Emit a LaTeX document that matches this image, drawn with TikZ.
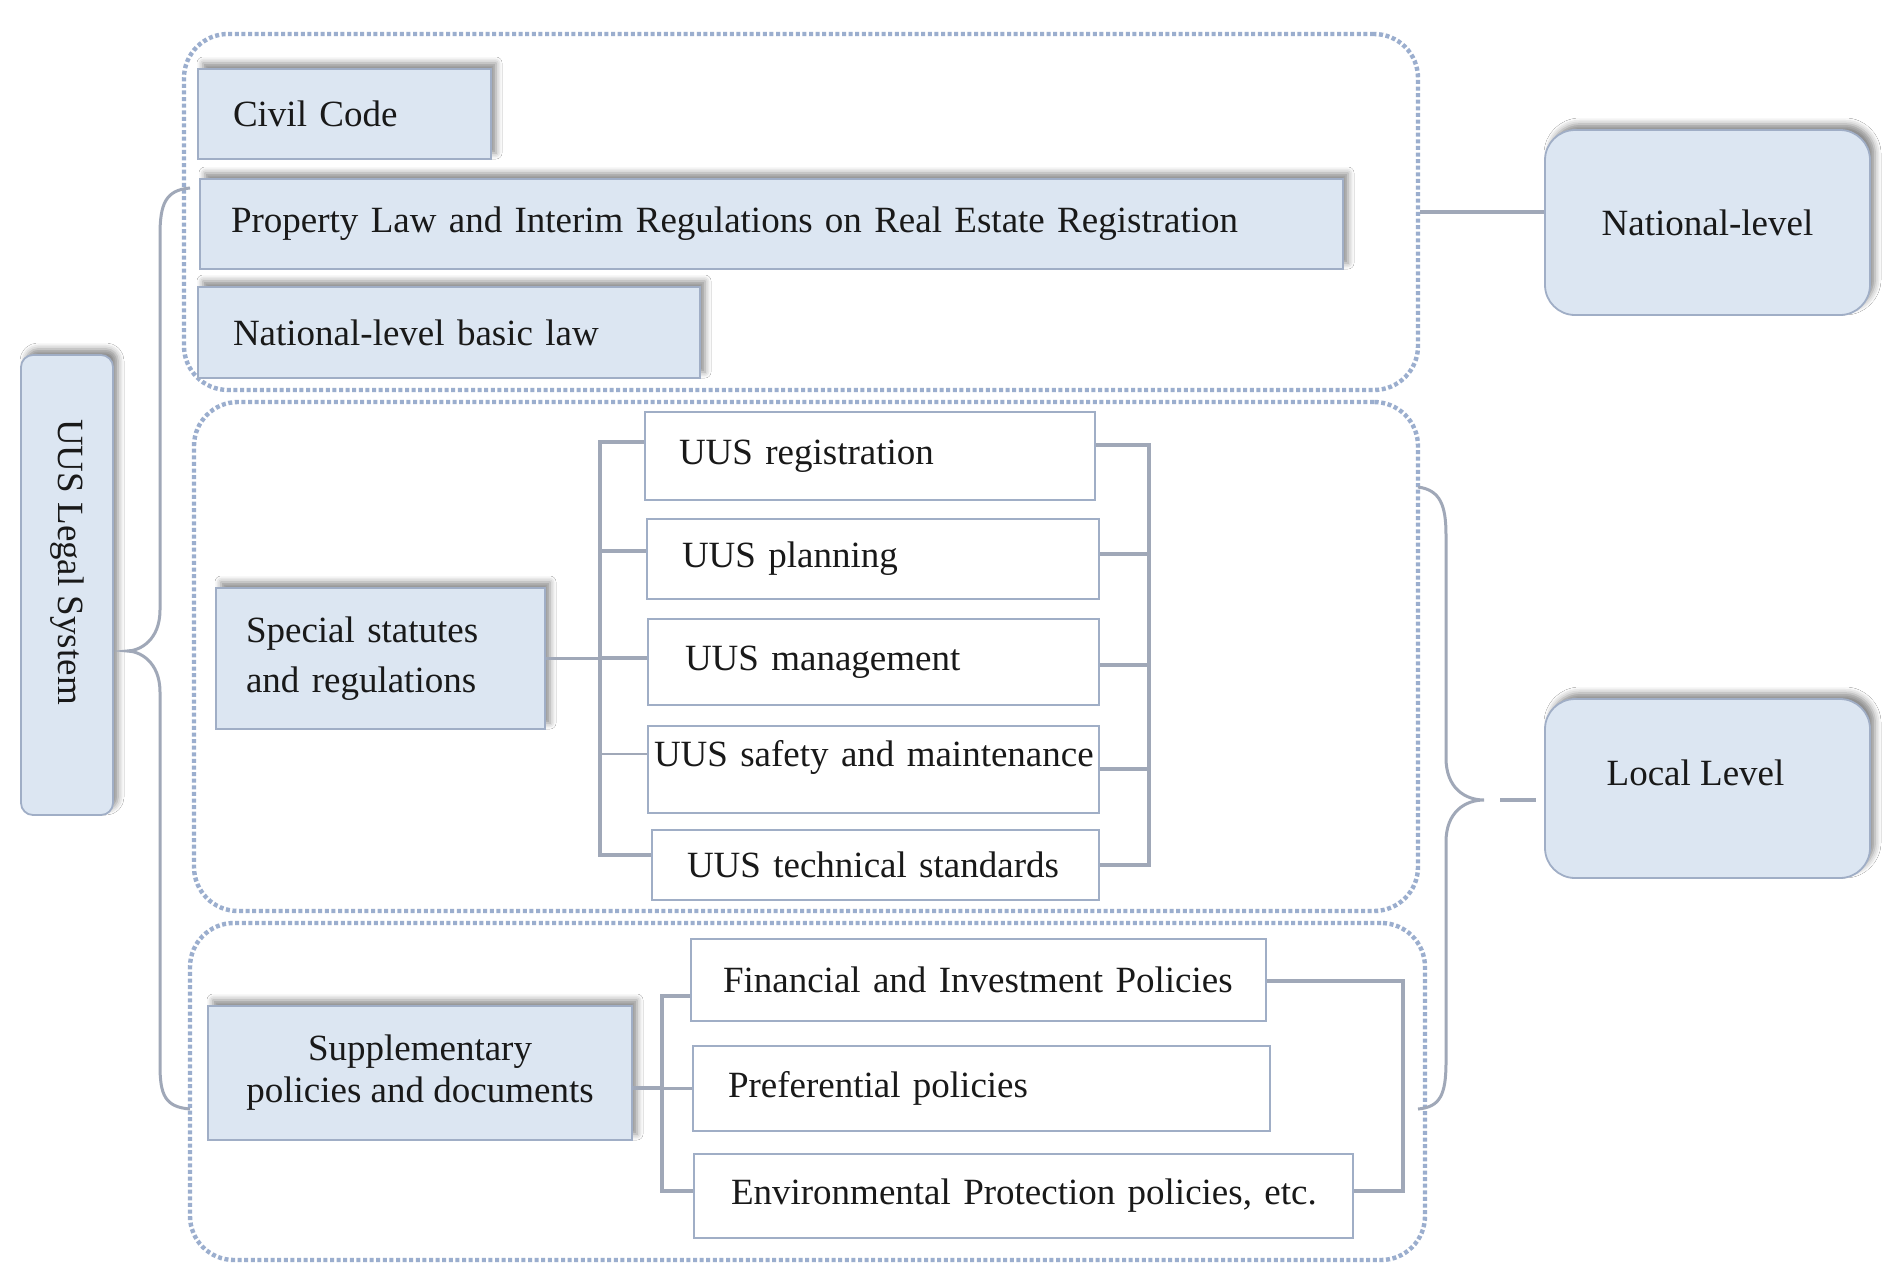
\documentclass[tikz,border=0pt]{standalone}
\usepackage{fontspec}
\setmainfont{Liberation Serif}
\usetikzlibrary{shadows.blur,calc}
\definecolor{boxfill}{RGB}{220,230,242}
\definecolor{boxline}{RGB}{160,174,198}
\definecolor{dotcol}{RGB}{155,174,206}
\definecolor{conncol}{RGB}{160,168,184}
\begin{document}
\begin{tikzpicture}[x=0.5pt,y=-0.5pt,
  every node/.style={font=\fontsize{18.5}{22}\selectfont, inner sep=0pt, text=black!90},
  bluebox/.style={rectangle, draw=boxline, line width=0.9pt, fill=boxfill,
    blur shadow={shadow xshift=2.5pt, shadow yshift=3pt, shadow blur radius=3pt, shadow opacity=45}},
  whitebox/.style={rectangle, draw=boxline, line width=1.2pt, fill=white},
  container/.style={rectangle, draw=dotcol, line width=2.2pt, dash pattern=on 2pt off 1.3pt, rounded corners=22pt},
  conn/.style={draw=conncol, line width=1.8pt},
  brace/.style={draw=conncol, line width=1.5pt},
]
\fill[white] (0,0) rectangle (1900,1285);
\useasboundingbox (0,0) rectangle (1900,1285);

% dotted containers
\node[container, minimum width=617pt, minimum height=178pt] (natbox) at (801,212) {};
\node[container, minimum width=612pt, minimum height=254.5pt] (locbox) at (806,656.5) {};
\node[container, minimum width=617.5pt, minimum height=168.5pt] (supbox) at (807.5,1091.5) {};

% helper coordinates
\coordinate (sl) at (600,0);
\coordinate (sr) at (1149,0);
\coordinate (ul) at (662,0);
\coordinate (ur) at (1403,0);
\coordinate (ltop) at (190,188);
\coordinate (ltip) at (127,651);
\coordinate (lbot) at (190,1109);
\coordinate (rtop) at (1418,487);
\coordinate (rtip) at (1484,800);
\coordinate (rbot) at (1418,1109);

% nodes
\node[bluebox, rounded corners=6pt, minimum width=46pt, minimum height=230pt] (legal) at (67,585) {};
\node[rotate=-90] (legaltext) at (67,562) {UUS Legal System};

\node[bluebox, text width=111.5pt, inner xsep=17.5pt, minimum height=45pt, align=left] (civil) at (344.5,114) {Civil Code};
\node[bluebox, text width=540.5pt, inner xsep=15.5pt, minimum height=45pt, align=left] (prop) at (771.5,224) {Property Law and Interim Regulations on Real Estate Registration};
\node[bluebox, text width=216pt, inner xsep=17.5pt, minimum height=45.5pt, align=left] (basic) at (449,332.5) {National-level basic law};

\node[bluebox, rounded corners=15pt, minimum width=162.5pt, minimum height=92.5pt] (national) at (1707.5,222.5) {National-level};
\node[bluebox, rounded corners=15pt, minimum width=162.5pt, minimum height=89.5pt, text depth=16pt] (local) at (1707.5,788.5) {Local Level\hspace*{12pt}};

\node[bluebox, text width=134.5pt, inner xsep=15pt, minimum height=70.5pt, align=left, font=\fontsize{18.5}{25}\selectfont] (special) at (380.5,658.5) {Special statutes\\and regulations};

\node[whitebox, text width=191pt, inner xsep=17pt, minimum height=44pt, align=left] (reg) at (870,456) {UUS registration};
\node[whitebox, text width=191pt, inner xsep=17.5pt, minimum height=40pt, align=left] (plan) at (873,559) {UUS planning};
\node[whitebox, text width=188.5pt, inner xsep=18.5pt, minimum height=43pt, align=left] (mgmt) at (873.5,662) {UUS management};
\node[whitebox, text width=219.5pt, inner xsep=3pt, minimum height=43.5pt, align=left, text depth=16pt] (safety) at (873.5,769.5) {\mbox{UUS safety and maintenance}};
\node[whitebox, text width=188.5pt, inner xsep=17.5pt, minimum height=35pt, align=left] (tech) at (875.5,865) {\mbox{UUS technical standards}};

\node[bluebox, minimum width=212pt, minimum height=67pt, align=center, font=\fontsize{18.5}{21}\selectfont] (supp) at (420,1073) {Supplementary\\policies and documents};

\node[whitebox, text width=255.5pt, inner xsep=16pt, minimum height=41pt, align=left] (fin) at (978.5,980) {Financial and Investment Policies};
\node[whitebox, text width=253.5pt, inner xsep=17.5pt, minimum height=42.5pt, align=left] (pref) at (981.5,1088.5) {Preferential policies};
\node[whitebox, text width=292.5pt, inner xsep=18.5pt, minimum height=42pt, align=left] (env) at (1023.5,1196) {\mbox{Environmental Protection policies, etc.}};

% braces
\draw[brace] (ltop) .. controls (165,190) and (160,205) .. (160,235) -- (160,610)
  .. controls (160,640) and (140,651) .. (ltip)
  .. controls (140,651) and (160,662) .. (160,692) -- (160,1065)
  .. controls (160,1095) and (165,1107) .. (lbot);
\draw[brace] (rtop) .. controls (1440,490) and (1446,505) .. (1446,535) -- (1446,758)
  .. controls (1446,788) and (1465,800) .. (rtip)
  .. controls (1465,800) and (1446,812) .. (1446,842) -- (1446,1062)
  .. controls (1446,1095) and (1440,1107) .. (rbot);

% connectors
\draw[conn] (natbox.east) -- (natbox.east -| national.west);
\draw[conn, shorten <=8pt, shorten >=4pt] (rtip) -- (rtip -| local.west);

\draw[conn] (special.east) -- (special.east -| sl);
\draw[conn] (reg.west |- 0,442) -- (sl |- 0,442) -- (sl |- 0,855) -- (tech.west |- 0,855);
\draw[conn] (plan.west |- 0,551) -- (sl |- 0,551);
\draw[conn] (mgmt.west |- 0,658) -- (sl |- 0,658);
\draw[conn, line width=1pt] (safety.west |- 0,754) -- (sl |- 0,754);

\draw[conn] (reg.east |- 0,445) -- (sr |- 0,445) -- (sr |- 0,865) -- (tech.east |- 0,865);
\draw[conn] (plan.east |- 0,554) -- (sr |- 0,554);
\draw[conn] (mgmt.east |- 0,665) -- (sr |- 0,665);
\draw[conn] (safety.east |- 0,769) -- (sr |- 0,769);

\draw[conn] (supp.east |- 0,1088) -- (ul |- 0,1088);
\draw[conn] (fin.west |- 0,996) -- (ul |- 0,996) -- (ul |- 0,1191) -- (env.west |- 0,1191);
\draw[conn] (pref.west) -- (pref.west -| ul);
\draw[conn] (fin.east |- 0,981) -- (ur |- 0,981) -- (ur |- 0,1191) -- (env.east |- 0,1191);
\end{tikzpicture}
\end{document}
